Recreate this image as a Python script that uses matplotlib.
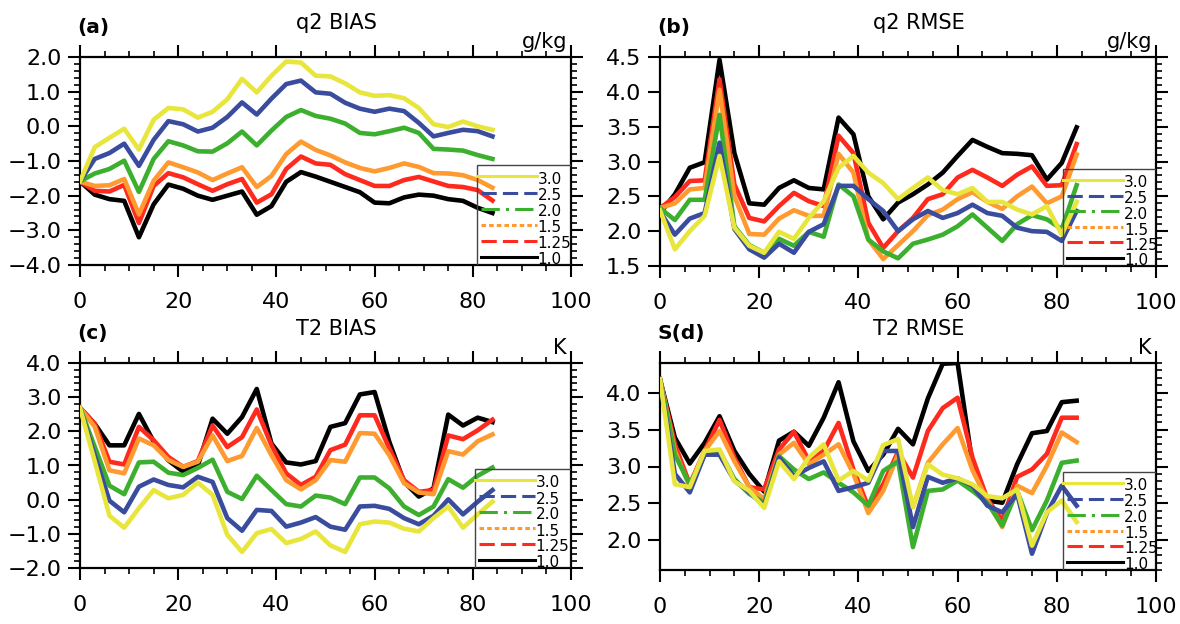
import matplotlib
matplotlib.use('Agg')
import matplotlib.pyplot as plt
from matplotlib.lines import Line2D
from matplotlib.patches import Rectangle
from matplotlib.ticker import MultipleLocator

plt.rcParams['font.family'] = ['DejaVu Sans']

lead_hours = list(range(0, 85, 3))
series_labels = ['3.0', '2.5', '2.0', '1.5', '1.25', '1.0']
series_colors = ['#e8e63c', '#3a4c9e', '#3cb02e', '#ff9a30', '#ff2a1e', '#000000']
legend_styles = ['-', (0, (5, 2)), (0, (6, 2, 1, 2)), (0, (1.5, 1)), (0, (5, 2)), '-']

# (a) q2 BIAS
q2_bias_30 = [-1.59, -0.60, -0.33, -0.07, -0.67, 0.19, 0.53, 0.49, 0.25, 0.42, 0.78, 1.37, 0.98, 1.46, 1.87, 1.84, 1.46, 1.44, 1.24, 0.98, 0.88, 0.90, 0.81, 0.53, 0.06, -0.02, 0.14, 0.00, -0.10]
q2_bias_25 = [-1.59, -0.94, -0.77, -0.50, -1.14, -0.39, 0.15, 0.06, -0.15, -0.04, 0.27, 0.69, 0.34, 0.80, 1.22, 1.32, 0.98, 0.94, 0.68, 0.51, 0.42, 0.51, 0.44, 0.10, -0.29, -0.19, -0.10, -0.14, -0.29]
q2_bias_20 = [-1.59, -1.36, -1.23, -0.99, -1.89, -0.94, -0.43, -0.55, -0.72, -0.73, -0.49, -0.15, -0.55, -0.12, 0.27, 0.47, 0.30, 0.22, 0.08, -0.19, -0.23, -0.14, -0.04, -0.19, -0.65, -0.67, -0.70, -0.83, -0.94]
q2_bias_15 = [-1.59, -1.72, -1.70, -1.52, -2.54, -1.57, -1.04, -1.18, -1.33, -1.55, -1.36, -1.18, -1.75, -1.43, -0.80, -0.44, -0.68, -0.84, -1.04, -1.20, -1.30, -1.20, -1.07, -1.17, -1.35, -1.36, -1.41, -1.55, -1.77]
q2_bias_125 = [-1.59, -1.86, -1.88, -1.69, -2.79, -1.72, -1.35, -1.47, -1.67, -1.86, -1.67, -1.52, -2.20, -1.96, -1.23, -0.87, -1.07, -1.11, -1.38, -1.55, -1.72, -1.72, -1.55, -1.46, -1.59, -1.72, -1.75, -1.84, -2.14]
q2_bias_10 = [-1.59, -1.97, -2.10, -2.15, -3.20, -2.25, -1.68, -1.80, -2.00, -2.12, -2.00, -1.88, -2.55, -2.30, -1.60, -1.32, -1.45, -1.60, -1.75, -1.90, -2.20, -2.22, -2.05, -1.97, -2.00, -2.10, -2.15, -2.35, -2.50]

# (b) q2 RMSE
q2_rmse_30 = [2.30, 1.74, 2.00, 2.22, 3.08, 2.05, 1.79, 1.69, 1.99, 1.89, 2.19, 2.43, 2.91, 3.08, 2.84, 2.69, 2.46, 2.62, 2.77, 2.59, 2.53, 2.62, 2.42, 2.42, 2.31, 2.24, 2.36, 1.95, 2.42]
q2_rmse_25 = [2.28, 1.95, 2.18, 2.26, 3.27, 2.03, 1.74, 1.62, 1.82, 1.69, 1.99, 2.10, 2.65, 2.65, 2.46, 2.29, 2.00, 2.17, 2.29, 2.19, 2.26, 2.38, 2.26, 2.22, 2.05, 2.00, 1.99, 1.86, 2.29]
q2_rmse_20 = [2.33, 2.16, 2.45, 2.45, 3.67, 2.07, 1.80, 1.69, 1.89, 1.79, 1.99, 1.92, 2.67, 2.50, 1.88, 1.71, 1.61, 1.82, 1.88, 1.95, 2.07, 2.24, 2.05, 1.86, 2.10, 2.23, 2.17, 2.03, 2.66]
q2_rmse_15 = [2.33, 2.40, 2.60, 2.62, 4.03, 2.50, 1.96, 1.95, 2.18, 2.30, 2.22, 2.22, 3.11, 2.84, 1.88, 1.60, 1.80, 2.00, 2.23, 2.31, 2.46, 2.56, 2.42, 2.32, 2.50, 2.64, 2.40, 2.50, 3.10]
q2_rmse_125 = [2.33, 2.49, 2.72, 2.73, 4.18, 2.67, 2.19, 2.14, 2.36, 2.55, 2.43, 2.36, 3.37, 3.12, 2.12, 1.76, 2.00, 2.19, 2.46, 2.53, 2.77, 2.88, 2.77, 2.65, 2.81, 2.93, 2.65, 2.66, 3.25]
q2_rmse_10 = [2.26, 2.53, 2.91, 2.99, 4.46, 3.12, 2.40, 2.38, 2.62, 2.73, 2.62, 2.60, 3.63, 3.39, 2.50, 2.17, 2.41, 2.53, 2.67, 2.84, 3.08, 3.31, 3.21, 3.12, 3.11, 3.09, 2.74, 2.98, 3.49]

# (c) T2 BIAS
t2_bias_30 = [2.69, 1.12, -0.47, -0.82, -0.25, 0.28, 0.04, 0.14, 0.50, 0.14, -1.03, -1.53, -0.98, -0.86, -1.27, -1.15, -0.93, -1.34, -1.53, -0.72, -0.64, -0.67, -0.85, -0.93, -0.54, -0.20, -0.82, -0.43, -0.06]
t2_bias_25 = [2.69, 1.30, -0.03, -0.37, 0.38, 0.59, 0.43, 0.36, 0.67, 0.52, -0.54, -0.91, -0.30, -0.33, -0.79, -0.67, -0.51, -0.79, -0.88, -0.20, -0.18, -0.27, -0.54, -0.72, -0.47, 0.01, -0.43, -0.06, 0.28]
t2_bias_20 = [2.69, 1.55, 0.41, 0.16, 1.09, 1.11, 0.79, 0.72, 0.93, 1.17, 0.23, 0.02, 0.70, 0.28, -0.13, -0.20, 0.12, 0.06, -0.13, 0.65, 0.65, 0.33, -0.20, -0.45, -0.20, 0.60, 0.35, 0.70, 0.94]
t2_bias_15 = [2.69, 2.13, 0.86, 0.77, 1.79, 1.59, 1.16, 0.96, 1.11, 1.88, 1.13, 1.28, 2.10, 1.30, 0.57, 0.30, 0.57, 1.16, 1.11, 1.95, 1.93, 1.30, 0.48, 0.21, 0.16, 1.42, 1.32, 1.71, 1.91]
t2_bias_125 = [2.69, 2.22, 1.11, 1.03, 2.13, 1.74, 1.25, 0.96, 1.13, 2.17, 1.54, 1.83, 2.64, 1.59, 0.77, 0.43, 0.67, 1.45, 1.61, 2.47, 2.47, 1.50, 0.57, 0.23, 0.28, 1.88, 1.77, 2.03, 2.34]
t2_bias_10 = [2.69, 2.22, 1.59, 1.59, 2.51, 1.70, 1.15, 0.82, 1.00, 2.37, 1.93, 2.42, 3.24, 1.64, 1.09, 1.03, 1.13, 2.13, 2.24, 3.08, 3.15, 1.69, 0.52, 0.09, 0.33, 2.49, 2.17, 2.40, 2.27]

# (d) T2 RMSE
t2_rmse_30 = [4.18, 2.76, 2.72, 3.21, 3.23, 2.80, 2.67, 2.44, 3.07, 2.83, 3.12, 3.30, 2.81, 2.94, 2.81, 3.29, 3.37, 2.45, 3.03, 2.89, 2.84, 2.76, 2.60, 2.57, 2.69, 1.93, 2.38, 2.54, 2.25]
t2_rmse_25 = [4.18, 2.90, 2.65, 3.16, 3.16, 2.81, 2.65, 2.47, 3.12, 2.87, 2.98, 3.07, 2.67, 2.72, 2.78, 3.21, 3.21, 2.18, 2.86, 2.78, 2.84, 2.74, 2.47, 2.38, 2.63, 1.82, 2.37, 2.74, 2.47]
t2_rmse_20 = [4.18, 3.16, 2.76, 3.16, 3.21, 2.83, 2.63, 2.51, 3.14, 2.96, 2.83, 2.92, 2.78, 2.65, 2.47, 2.94, 3.07, 1.91, 2.67, 2.69, 2.81, 2.67, 2.51, 2.20, 2.67, 2.14, 2.54, 3.05, 3.08]
t2_rmse_15 = [4.18, 3.21, 2.72, 3.21, 3.48, 3.07, 2.72, 2.56, 3.16, 3.32, 3.03, 3.16, 3.30, 2.90, 2.37, 2.67, 3.16, 2.45, 3.05, 3.30, 3.52, 2.95, 2.54, 2.18, 2.74, 2.64, 3.01, 3.46, 3.33]
t2_rmse_125 = [4.18, 3.30, 2.76, 3.21, 3.63, 3.12, 2.72, 2.69, 3.23, 3.47, 3.08, 3.21, 3.59, 2.96, 2.45, 2.76, 3.20, 2.85, 3.48, 3.79, 3.93, 3.12, 2.56, 2.27, 2.86, 2.96, 3.17, 3.66, 3.66]
t2_rmse_10 = [4.18, 3.39, 3.04, 3.32, 3.68, 3.21, 2.90, 2.66, 3.35, 3.47, 3.28, 3.66, 4.14, 3.34, 2.94, 3.16, 3.51, 3.30, 3.92, 4.39, 4.40, 3.03, 2.54, 2.51, 3.03, 3.45, 3.48, 3.87, 3.89]

W, H = 1180, 624
fig = plt.figure(figsize=(W / 100, H / 100), dpi=100)


def px_rect(x0, y0, x1, y1):
    return [x0 / W, 1 - y1 / H, (x1 - x0) / W, (y1 - y0) / H]


panels = [
    dict(rect=px_rect(80, 57, 571, 265), tag='(a)', title='q2 BIAS', unit='g/kg',
         data=[q2_bias_30, q2_bias_25, q2_bias_20, q2_bias_15, q2_bias_125, q2_bias_10],
         ylim=(-4.0, 2.0), minor=0.2, ticks=[-4, -3, -2, -1, 0, 1, 2], left_minor=True,
         leg=(0.808, 0.48)),
    dict(rect=px_rect(660, 57, 1156, 266), tag='(b)', title='q2 RMSE', unit='g/kg',
         data=[q2_rmse_30, q2_rmse_25, q2_rmse_20, q2_rmse_15, q2_rmse_125, q2_rmse_10],
         ylim=(1.5, 4.5), minor=0.1, ticks=[1.5, 2.0, 2.5, 3.0, 3.5, 4.0, 4.5], left_minor=False,
         leg=(0.812, 0.464)),
    dict(rect=px_rect(80, 363, 571, 568), tag='(c)', title='T2 BIAS', unit='K',
         data=[t2_bias_30, t2_bias_25, t2_bias_20, t2_bias_15, t2_bias_125, t2_bias_10],
         ylim=(-2.0, 4.0), minor=0.2, ticks=[-2, -1, 0, 1, 2, 3, 4], left_minor=True,
         leg=(0.804, 0.483)),
    dict(rect=px_rect(660, 363, 1156, 570), tag='S(d)', title='T2 RMSE', unit='K',
         data=[t2_rmse_30, t2_rmse_25, t2_rmse_20, t2_rmse_15, t2_rmse_125, t2_rmse_10],
         ylim=(1.6, 4.4), minor=0.1, ticks=[2.0, 2.5, 3.0, 3.5, 4.0], left_minor=False,
         leg=(0.812, 0.473)),
]

row_pos = [0.11, 0.275, 0.435, 0.60, 0.755, 0.915]

for p in panels:
    ax = fig.add_axes(p['rect'])
    ax.set_xlim(0, 100)
    ax.set_ylim(*p['ylim'])
    # draw in reverse order so that 3.0 (yellow) ends on top
    for vals, col in reversed(list(zip(p['data'], series_colors))):
        ax.plot(lead_hours, vals, color=col, lw=3.3, zorder=3)
    ax.set_xticks([0, 20, 40, 60, 80, 100])
    ax.xaxis.set_minor_locator(MultipleLocator(5))
    ax.set_yticks(p['ticks'])
    ax.set_yticklabels(['%.1f' % t if t >= 0 else '\u2212%.1f' % (-t) for t in p['ticks']])
    ax.yaxis.set_minor_locator(MultipleLocator(p['minor']))
    ax.tick_params(which='major', direction='out', length=8.5, width=1.5,
                   top=True, right=True, labelsize=16, color='black')
    ax.tick_params(which='minor', direction='out', length=4.3, width=1.2,
                   top=True, right=True)
    if not p['left_minor']:
        ax.tick_params(axis='y', which='minor', left=False)
    ax.tick_params(axis='x', which='major', pad=11)
    ax.tick_params(axis='y', which='major', pad=5)
    for s in ax.spines.values():
        s.set_linewidth(1.6)
    ax.set_xlim(0, 100)
    ax.set_ylim(*p['ylim'])

    # legend box (transparent, lines show through as in the reference)
    lx, ly = p['leg']
    ax.add_patch(Rectangle((lx, 0), 1 - lx, ly, transform=ax.transAxes, fill=False,
                           ec='#444444', lw=1.0, zorder=4))
    for i, (lab, col, ls) in enumerate(zip(series_labels, series_colors, legend_styles)):
        yc = ly * (1 - row_pos[i])
        x_start = lx + (0.0 if i == 0 else 0.008)
        ax.add_line(Line2D([x_start, lx + 0.122], [yc, yc], transform=ax.transAxes,
                           color=col, lw=2.2, linestyle=ls, zorder=5))
        ax.text(lx + 0.124, yc - 0.014, lab, transform=ax.transAxes, fontsize=11,
                ha='left', va='center', zorder=6)

    x0, y0, w, h = p['rect']
    top_px = (1 - (y0 + h)) * H
    left_px = x0 * W
    right_px = (x0 + w) * W
    fig.text((left_px - 3) / W, 1 - (top_px - 29) / H, p['tag'], fontsize=14.5,
             fontweight='bold', ha='left', va='center')
    fig.text((left_px + right_px) / 2 / W + 0.009, 1 - (top_px - 34) / H, p['title'],
             fontsize=15, ha='center', va='center')
    fig.text((right_px - 4) / W, 1 - (top_px - 15) / H, p['unit'], fontsize=15,
             ha='right', va='center')

fig.savefig('out.png', dpi=100)
